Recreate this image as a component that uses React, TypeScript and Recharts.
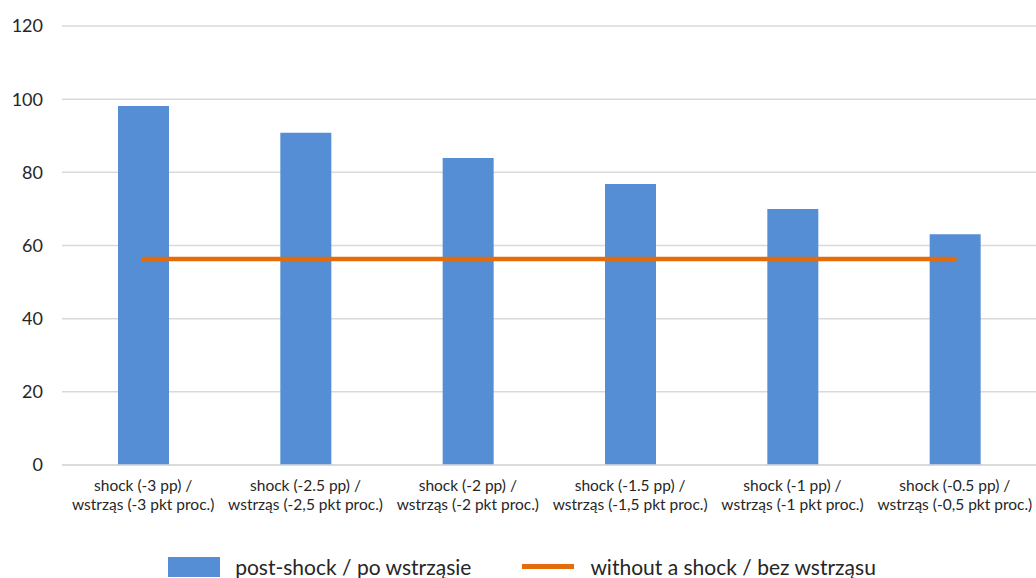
import { ComposedChart, Bar, Line, XAxis, YAxis, CartesianGrid, Legend } from 'recharts'

const shockLabels = [
  ['shock (-3 pp) /', 'wstrząs (-3 pkt proc.)'],
  ['shock (-2.5 pp) /', 'wstrząs (-2,5 pkt proc.)'],
  ['shock (-2 pp) /', 'wstrząs (-2 pkt proc.)'],
  ['shock (-1.5 pp) /', 'wstrząs (-1,5 pkt proc.)'],
  ['shock (-1 pp) /', 'wstrząs (-1 pkt proc.)'],
  ['shock (-0.5 pp) /', 'wstrząs (-0,5 pkt proc.)'],
]
const postShock = [98.1, 90.8, 83.9, 76.8, 70.0, 63.1]
const noShock = [56.3, 56.3, 56.3, 56.3, 56.3, 56.3]
const yTicks = [0, 20, 40, 60, 80, 100, 120]

const BAR_NAME = 'post-shock / po wstrząsie'
const LINE_NAME = 'without a shock / bez wstrząsu'
const BLUE = '#558ED5'
const ORANGE = '#E46C0A'
const FONT = 'Lato, "Open Sans", sans-serif'

const data = shockLabels.map((l, i) => ({
  cat: String(i),
  post: postShock[i],
  base: noShock[i],
}))

function CatTick({ x, y, payload }: any) {
  const lines = shockLabels[Number(payload.value)]
  return (
    <text x={x} y={y} textAnchor="middle" fontFamily={FONT} fontSize={15.5} fill="#262626">
      <tspan x={x} dy={18}>{lines[0]}</tspan>
      <tspan x={x} dy={19}>{lines[1]}</tspan>
    </text>
  )
}

function LegendBox() {
  return (
    <div style={{ display: 'flex', justifyContent: 'center', alignItems: 'center', fontFamily: FONT, fontSize: 21, color: '#262626', paddingTop: 29, paddingLeft: 8 }}>
      <span style={{ width: 52, height: 20, background: BLUE, display: 'inline-block', marginRight: 15 }} />
      <span style={{ marginRight: 51 }}>{BAR_NAME}</span>
      <span style={{ width: 52, height: 5, background: ORANGE, display: 'inline-block', marginRight: 16 }} />
      <span>{LINE_NAME}</span>
    </div>
  )
}

export default function App() {
  return (
    <div style={{ position: 'absolute', left: 0, top: 0, background: '#fff' }}>
      <ComposedChart width={1036} height={578} data={data} margin={{ top: 26, right: 0, bottom: 0, left: 0 }}>
        <CartesianGrid vertical={false} stroke="#D9D9D9" strokeWidth={1.5} />
        <XAxis dataKey="cat" height={60} tick={<CatTick />} tickLine={false} axisLine={{ stroke: '#D9D9D9', strokeWidth: 1.5 }} interval={0} />
        <YAxis
          width={62}
          domain={[0, 120]}
          ticks={yTicks}
          tickLine={false}
          axisLine={false}
          tickMargin={13}
          tick={{ fontSize: 18, fill: '#262626', fontFamily: FONT }}
        />
        <Legend verticalAlign="bottom" height={53} content={<LegendBox />} />
        <Bar dataKey="post" name={BAR_NAME} fill={BLUE} barSize={51} isAnimationActive={false} />
        <Line
          dataKey="base"
          name={LINE_NAME}
          stroke={ORANGE}
          strokeWidth={4.5}
          strokeLinecap="round"
          dot={false}
          activeDot={false}
          isAnimationActive={false}
        />
      </ComposedChart>
    </div>
  )
}
